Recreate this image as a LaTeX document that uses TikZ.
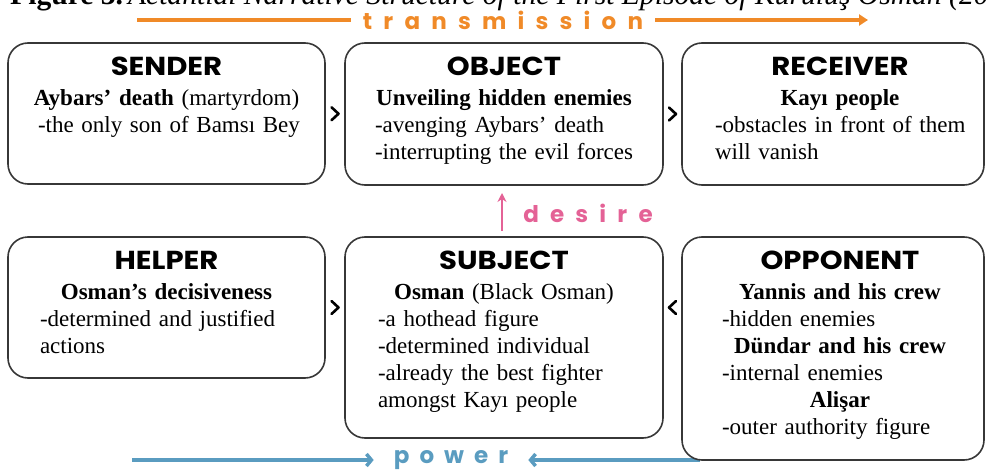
\documentclass[tikz,border=0pt]{standalone}
\usepackage{fontspec}
\setmainfont{Liberation Serif}
\newfontfamily\headfont{Poppins}
\newfontfamily\hdfont{Poppins}[FakeStretch=1.12]
\usetikzlibrary{arrows.meta}

\definecolor{trcol}{RGB}{240,138,40}
\definecolor{decol}{RGB}{228,98,150}
\definecolor{pwcol}{RGB}{90,156,192}
\definecolor{edge}{RGB}{55,55,55}

% heading, centred line, left line
\newcommand\hd[1]{\centerline{\hdfont\bfseries\fontsize{26}{27}\selectfont #1}\par\vspace{2.5pt}}
\newcommand\bl[1]{\par\centerline{#1}}
\newcommand\dl[1]{\par\leftline{#1}}
% spaced out letters
\newdimen\spgap
\def\spc#1{\spcfirst#1\relax}
\def\spcfirst#1{#1\spcaux}
\def\spcaux#1{\ifx#1\relax\else\kern\spgap#1\expandafter\spcaux\fi}

\begin{document}
\begin{tikzpicture}[x=1pt, y=-1pt,
  box/.style={draw=edge, line width=1.6pt, rounded corners=20pt, fill=white},
  txt/.style={anchor=north, inner sep=0pt, text width=#1, font=\fontsize{23}{27}\selectfont},
  chev/.style={line width=2.6pt, line cap=round, line join=round},
  spaced/.style={font=\headfont\bfseries\fontsize{23}{23}\selectfont, inner ysep=0pt, inner xsep=#1},
  trline/.style={draw=trcol, line width=3.5pt},
  pwline/.style={draw=pwcol, line width=3.5pt, -{Straight Barb[length=5pt,width=12pt]}},
  deline/.style={draw=decol, line width=2.2pt, -{Stealth[length=9pt,width=9pt]}},
]
\useasboundingbox (0,0) rectangle (986,471);

% caption, cut by the top edge
\node[anchor=base west, inner sep=0pt, font=\fontsize{29.6}{30}\selectfont] (cap) at (10,5)
  {\textbf{Figure 3.}\,\textit{Actantial Narrative Structure of the First Episode of Kuruluş Osman (20}};

% transmission
\node[spaced=12pt, text=trcol] (trans) at (503,20) {\spgap=11.2pt\spc{transmission}};
\coordinate (t0) at (137,20);
\coordinate (t1) at (868,20);
\draw[trline] (t0) -- (trans.west);
\draw[trline, -{Triangle[length=9pt,width=11pt]}] (trans.east) -- (t1);

% power (runs under the opponent box)
\node[spaced=20pt, text=pwcol] (pow) at (451,460) {\spgap=10pt\spc{power}};
\coordinate (p0) at (132,460);
\coordinate (p1) at (700,460);
\draw[pwline] (p0) -- (pow.west);
\draw[pwline] (p1) -- (pow.east);

% boxes
\node[box, minimum width=317, minimum height=141] (sender) at (166.5,113.5) {};
\node[box, minimum width=318, minimum height=142] (object) at (504,114) {};
\node[box, minimum width=302, minimum height=142] (receiver) at (833,114) {};
\node[box, minimum width=317, minimum height=141] (helper) at (166.5,307.5) {};
\node[box, minimum width=318, minimum height=201] (subject) at (504,337.5) {};
\node[box, minimum width=302, minimum height=223] (opponent) at (833,348.5) {};

% texts
\node[txt=257pt] (sender-t) at ([yshift=-15pt]sender.north)
  {\hd{SENDER}\bl{\textbf{Aybars' death} (martyrdom)}\dl{-the only son of Bamsı Bey}};
\node[txt=258pt] (object-t) at ([yshift=-15pt]object.north)
  {\hd{OBJECT}\bl{\textbf{Unveiling hidden enemies}}\dl{-avenging Aybars' death}\dl{-interrupting the evil forces}};
\node[txt=250pt] (receiver-t) at ([xshift=7pt,yshift=-15pt]receiver.north)
  {\hd{RECEIVER}\bl{\textbf{Kayı people}}\dl{-obstacles in front of them}\dl{will vanish}};
\node[txt=253pt] (helper-t) at ([yshift=-15pt]helper.north)
  {\hd{HELPER}\bl{\textbf{Osman's decisiveness}}\dl{-determined and justified}\dl{actions}};
\node[txt=252pt] (subject-t) at ([yshift=-15pt]subject.north)
  {\hd{SUBJECT}\bl{\textbf{Osman} (Black Osman)}\dl{-a hothead figure}\dl{-determined individual}\dl{-already the best fighter}\dl{amongst Kayı people}};
\node[txt=236pt] (opponent-t) at ([xshift=7pt,yshift=-15pt]opponent.north)
  {\hd{OPPONENT}\bl{\textbf{Yannis and his crew}}\dl{-hidden enemies}\bl{\textbf{Dündar and his crew}}\dl{-internal enemies}\bl{\textbf{Alişar}}\dl{-outer authority figure}};

% chevrons between the boxes
\path (sender) -- (object) coordinate[midway] (c1);
\path (object) -- (receiver) coordinate[midway] (c2);
\path (helper.east) -- (subject.west |- helper.east) coordinate[midway] (c3);
\path (opponent.west |- helper.east) -- (subject.east |- helper.east) coordinate[midway] (c4);
\draw[chev] ([shift={(-3.5,-6.5)}]c1) -- ++(7,6.5) -- ++(-7,6.5);
\draw[chev] ([shift={(-3.5,-6.5)}]c2) -- ++(7,6.5) -- ++(-7,6.5);
\draw[chev] ([shift={(-3.5,-6.5)}]c3) -- ++(7,6.5) -- ++(-7,6.5);
\draw[chev] ([shift={(3.5,-6.5)}]c4) -- ++(-7,6.5) -- ++(7,6.5);

% desire
\coordinate (d0) at (502,231);
\coordinate (d1) at (502,193);
\draw[deline] (d0) -- (d1);
\node[spaced=0pt, text=decol] (des) at (588,213) {\spgap=11.2pt\spc{desire}};
\end{tikzpicture}
\end{document}
